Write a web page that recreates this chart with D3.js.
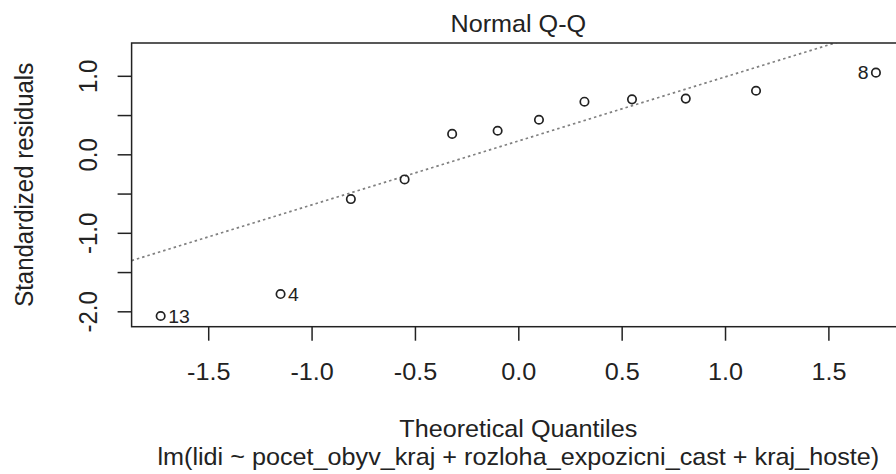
<!DOCTYPE html>
<html>
<head>
<meta charset="utf-8">
<script src="https://cdn.jsdelivr.net/npm/d3@7"></script>
<style>
  body { margin: 0; background: #fff; }
  svg { display: block; font-family: "Liberation Sans", Arial, sans-serif; }
</style>
</head>
<body>
<svg id="qq" width="896" height="474"></svg>
<script>
// theoretical quantiles and standardized residuals (sorted)
const theoretical = [-1.73, -1.15, -0.81, -0.55, -0.32, -0.10, 0.10, 0.32, 0.55, 0.81, 1.15, 1.73];
const residuals = [-2.06, -1.78, -0.57, -0.32, 0.26, 0.30, 0.44, 0.67, 0.70, 0.71, 0.81, 1.04];
const pointIds = ["13", "4", "", "", "", "", "", "", "", "", "", "8"];
const xTicks = [-1.5, -1.0, -0.5, 0.0, 0.5, 1.0, 1.5];
const yTicks = [-2.0, -1.5, -1.0, -0.5, 0.0, 0.5, 1.0];
const yLabelled = [-2.0, -1.0, 0.0, 1.0];
const qqIntercept = 0.17;
const qqSlope = 0.815;
const title = "Normal Q-Q";
const xTitle = "Theoretical Quantiles";
const subTitle = "lm(lidi ~ pocet_obyv_kraj + rozloha_expozicni_cast + kraj_hoste)";
const yTitle = "Standardized residuals";

const svg = d3.select("#qq");
const plot = {left: 131.6, right: 905, top: 43, bottom: 326.7};
const stretch = 1.05; // the picture is a little wider than tall
const ink = "#222";
const fmt = d3.formatLocale({decimal: ".", thousands: ",", grouping: [3], currency: ["", ""], minus: "-"}).format(".1f");

const x = d3.scaleLinear().domain([-1.8706, 1.8706]).range([plot.left, plot.right]);
const y = d3.scaleLinear().domain([-2.196, 1.418]).range([plot.bottom, plot.top]);

svg.append("defs").append("clipPath").attr("id", "clip")
  .append("rect")
  .attr("x", plot.left).attr("y", plot.top)
  .attr("width", plot.right - plot.left).attr("height", plot.bottom - plot.top);

// qq line
const xd = x.domain();
svg.append("line")
  .attr("clip-path", "url(#clip)")
  .attr("x1", x(xd[0])).attr("y1", y(qqIntercept + qqSlope * xd[0]))
  .attr("x2", x(xd[1])).attr("y2", y(qqIntercept + qqSlope * xd[1]))
  .attr("stroke", "#808080")
  .attr("stroke-width", 1.7)
  .attr("stroke-dasharray", "2.5,3");

// frame
svg.append("rect")
  .attr("x", plot.left).attr("y", plot.top)
  .attr("width", plot.right - plot.left).attr("height", plot.bottom - plot.top)
  .attr("fill", "none").attr("stroke", ink).attr("stroke-width", 1.5);

// x axis
const gx = svg.append("g")
  .attr("transform", `translate(0,${plot.bottom})`)
  .call(d3.axisBottom(x).tickValues(xTicks).tickSize(14).tickFormat(fmt));
gx.select(".domain").remove();
gx.selectAll("line").attr("stroke", ink).attr("stroke-width", 1.5);
gx.selectAll("text").attr("font-size", 24).attr("fill", ink)
  .attr("dy", null).attr("y", 0)
  .attr("transform", `translate(0,53) scale(${stretch},1)`);

// y axis
const gy = svg.append("g")
  .attr("transform", `translate(${plot.left},0)`)
  .call(d3.axisLeft(y).tickValues(yTicks).tickSize(14)
    .tickFormat(d => yLabelled.includes(d) ? fmt(d) : ""));
gy.select(".domain").remove();
gy.selectAll("line").attr("stroke", ink).attr("stroke-width", 1.5);
gy.selectAll("text")
  .attr("font-size", 24).attr("fill", ink)
  .attr("x", null).attr("dy", null)
  .attr("text-anchor", "middle")
  .attr("transform", `translate(-35,0) scale(${stretch},1) rotate(-90)`);

// points
svg.append("g").selectAll("circle")
  .data(theoretical)
  .join("circle")
  .attr("cx", d => x(d))
  .attr("cy", (d, i) => y(residuals[i]))
  .attr("r", 4.2)
  .attr("fill", "none")
  .attr("stroke", ink)
  .attr("stroke-width", 1.7);

// point ids
svg.append("g").selectAll("text")
  .data(theoretical.map((d, i) => ({q: d, r: residuals[i], id: pointIds[i]})).filter(d => d.id))
  .join("text")
  .attr("transform", d => `translate(${d.q > 0 ? x(d.q) - 7.5 : x(d.q) + 7.5},${y(d.r) + 6.5}) scale(${stretch},1)`)
  .attr("text-anchor", d => d.q > 0 ? "end" : "start")
  .attr("font-size", 18.5)
  .attr("fill", ink)
  .text(d => d.id);

// titles
const cx = (plot.left + plot.right) / 2;
const addTitle = (txt, ty) => svg.append("text")
  .attr("transform", `translate(${cx},${ty}) scale(${stretch},1)`)
  .attr("text-anchor", "middle")
  .attr("font-size", 24).attr("fill", ink).text(txt);
addTitle(title, 32);
addTitle(xTitle, 437);
addTitle(subTitle, 465);
svg.append("text")
  .attr("transform", `translate(33,${(plot.top + plot.bottom) / 2}) scale(${stretch},1) rotate(-90)`)
  .attr("text-anchor", "middle")
  .attr("font-size", 24).attr("fill", ink).text(yTitle);
</script>
</body>
</html>
